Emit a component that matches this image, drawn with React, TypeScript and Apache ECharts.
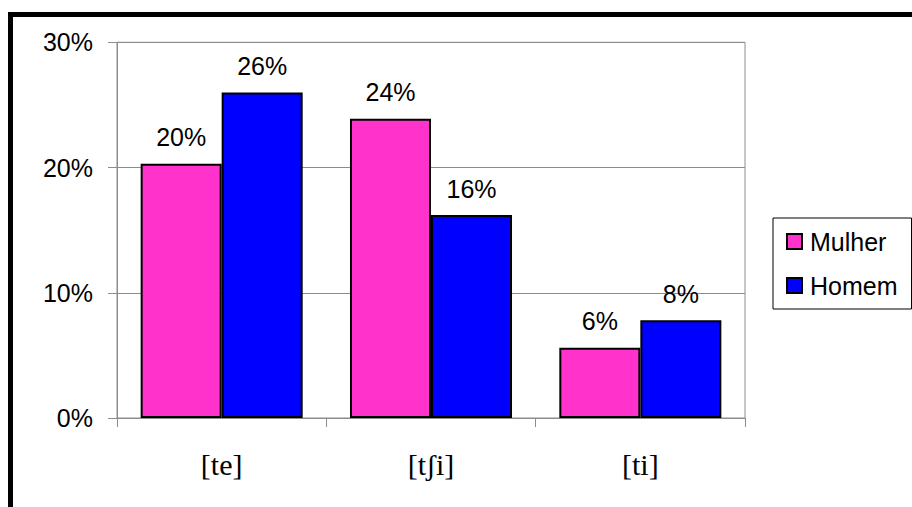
import React, { useEffect, useRef } from "react";
import * as echarts from "echarts";

const categories = ["[te]", "[tʃi]", "[ti]"];
const mulher = [20.3, 23.9, 5.6];
const homem = [26.0, 16.2, 7.8];
const yTicks = { min: 0, max: 30, interval: 10 };

export default function App() {
  const ref = useRef<HTMLDivElement>(null);
  useEffect(() => {
    if (!ref.current) return;
    const chart = echarts.init(ref.current, null, { renderer: "svg" });
    const labelStyle = {
      show: true,
      position: "top" as const,
      distance: 14,
      fontFamily: "Liberation Sans",
      fontSize: 25,
      color: "#000",
      formatter: (p: any) => Math.round(p.value) + "%",
    };
    chart.setOption({
      animation: false,
      backgroundColor: "#fff",
      grid: {
        left: 117,
        right: 167,
        top: 42.3,
        bottom: 89,
        show: true,
        borderColor: "#8c8c8c",
        borderWidth: 1,
      },
      legend: {
        orient: "vertical",
        left: 773,
        top: 218,
        padding: [11, 14, 11, 13],
        borderColor: "#000",
        borderWidth: 1,
        itemWidth: 15,
        itemHeight: 15,
        itemGap: 19,
        icon: "rect",
        textStyle: {
          fontFamily: "Liberation Sans",
          fontSize: 25,
          color: "#000",
          padding: [0, 0, 0, 3],
        },
        data: ["Mulher", "Homem"],
      },
      xAxis: {
        type: "category",
        data: categories,
        axisLine: { lineStyle: { color: "#8c8c8c", width: 1 } },
        axisTick: { show: true, length: 9, lineStyle: { color: "#8c8c8c" } },
        axisLabel: {
          fontFamily: "Liberation Serif",
          fontSize: 30,
          color: "#000",
          margin: 31,
        },
      },
      yAxis: {
        type: "value",
        min: yTicks.min,
        max: yTicks.max,
        interval: yTicks.interval,
        axisLine: { show: true, lineStyle: { color: "#8c8c8c", width: 1 } },
        axisTick: { show: true, length: 9, lineStyle: { color: "#8c8c8c" } },
        splitLine: { show: true, lineStyle: { color: "#8c8c8c", width: 1 } },
        axisLabel: {
          formatter: "{value}%",
          fontFamily: "Liberation Sans",
          fontSize: 25,
          color: "#000",
          margin: 24,
        },
      },
      series: [
        {
          name: "Mulher",
          type: "bar",
          data: mulher,
          barGap: "0%",
          barCategoryGap: "22.6%",
          itemStyle: { color: "#FF33CC", borderColor: "#000", borderWidth: 2 },
          label: labelStyle,
        },
        {
          name: "Homem",
          type: "bar",
          data: homem,
          itemStyle: { color: "#0000FF", borderColor: "#000", borderWidth: 2 },
          label: labelStyle,
        },
      ],
      graphic: [
        {
          type: "rect",
          shape: { x: 10.5, y: 14.5, width: 1000, height: 1000 },
          style: { fill: "none", stroke: "#000", lineWidth: 5 },
          silent: true,
        },
      ],
    });
    return () => chart.dispose();
  }, []);
  return (
    <div
      ref={ref}
      style={{ position: "absolute", left: 0, top: 0, width: 912, height: 507 }}
    />
  );
}
